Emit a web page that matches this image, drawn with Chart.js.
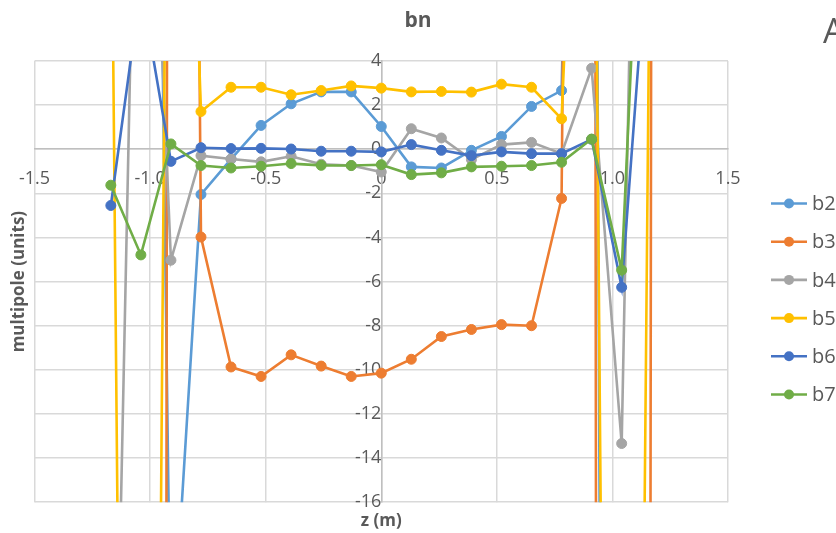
<!DOCTYPE html>
<html>
<head>
<meta charset="utf-8">
<title>bn</title>
<script src="https://cdn.jsdelivr.net/npm/chart.js@4.4.1/dist/chart.umd.min.js"></script>
<style>
  html, body { margin: 0; padding: 0; background: #ffffff; }
  #bnChart { display: block; }
</style>
</head>
<body>
<canvas id="bnChart" width="836" height="533"></canvas>
<script>
// z positions along the magnet (m)
const zPositions = [-1.17, -1.04, -0.91, -0.78, -0.65, -0.52, -0.39, -0.26, -0.13, 0,
                    0.13, 0.26, 0.39, 0.52, 0.65, 0.78, 0.91, 1.04, 1.17];

// normal multipoles, units
const b2 = [30, 78, -24, -2.05, -0.45, 1.08, 2.06, 2.6, 2.6, 1.03, -0.8, -0.85, -0.05, 0.58, 1.94, 2.66, 60, -226, -60];
const b3 = [-60, -1000, 156, -3.98, -9.87, -10.3, -9.32, -9.83, -10.3, -10.15, -9.52, -8.49, -8.17, -7.95, -8.0, -2.23, 150, -1000, 25];
const b4 = [-38, 27, -5.03, -0.29, -0.44, -0.57, -0.32, -0.68, -0.74, -1.03, 0.93, 0.51, -0.47, 0.21, 0.31, -0.2, 3.67, -13.34, 56];
const b5 = [15.8, -130, 40, 1.71, 2.81, 2.81, 2.47, 2.66, 2.87, 2.77, 2.6, 2.62, 2.59, 2.95, 2.81, 1.38, 33, -130, 19];
const b6 = [-2.55, 7.4, -0.55, 0.07, 0.03, 0.04, 0.01, -0.09, -0.09, -0.12, 0.21, -0.05, -0.29, -0.12, -0.2, -0.2, 0.45, -6.26, 12];
const b7 = [-1.63, -4.79, 0.24, -0.74, -0.85, -0.77, -0.65, -0.73, -0.74, -0.7, -1.15, -1.07, -0.8, -0.77, -0.74, -0.59, 0.46, -5.48, 24.5];

const seriesNames = ['b2', 'b3', 'b4', 'b5', 'b6', 'b7'];
const seriesValues = [b2, b3, b4, b5, b6, b7];
const seriesColors = ['#5B9BD5', '#ED7D31', '#A5A5A5', '#FFC000', '#4472C4', '#70AD47'];

const xTickValues = [-1.5, -1, -0.5, 0, 0.5, 1, 1.5];
const yTickValues = [4, 2, 0, -2, -4, -6, -8, -10, -12, -14, -16];

const chartTitle = 'bn';
const xTitle = 'z (m)';
const yTitle = 'multipole (units)';
const cornerText = 'A';

const textColor = '#595959';
const fontFamily = '"Open Sans", sans-serif';

function buildDatasets() {
    return seriesNames.map((name, i) => ({
        label: name,
        data: zPositions.map((z, k) => ({ x: z, y: seriesValues[i][k] })),
        showLine: true,
        borderColor: seriesColors[i],
        backgroundColor: seriesColors[i],
        borderWidth: 2.6,
        pointRadius: 5,
        pointBorderWidth: 1,
        pointBorderColor: seriesColors[i],
        pointBackgroundColor: seriesColors[i],
        clip: 0,
        // later series sit on top
        order: seriesNames.length - i
    }));
}

// title, axis titles and the legend on the right
const chartText = {
    id: 'chartText',
    afterDraw(chart) {
        const ctx = chart.ctx;
        const area = chart.chartArea;
        ctx.save();
        ctx.fillStyle = textColor;
        ctx.textAlign = 'center';
        ctx.textBaseline = 'middle';

        ctx.font = 'bold 21px ' + fontFamily;
        ctx.fillText(chartTitle, chart.width / 2, 21);

        ctx.font = 'bold 17px ' + fontFamily;
        ctx.fillText(xTitle, (area.left + area.right) / 2, 521);

        ctx.save();
        ctx.translate(19, (area.top + area.bottom) / 2);
        ctx.rotate(-Math.PI / 2);
        ctx.fillText(yTitle, 0, 0);
        ctx.restore();

        ctx.textAlign = 'left';
        ctx.textBaseline = 'alphabetic';
        ctx.font = '34px ' + fontFamily;
        ctx.fillText(cornerText, 823, 43);

        // legend entries: line with a marker, then the name
        ctx.font = '20px ' + fontFamily;
        ctx.textBaseline = 'middle';
        seriesNames.forEach((name, i) => {
            const y = 203.5 + i * 38.2;
            ctx.strokeStyle = seriesColors[i];
            ctx.lineWidth = 2.6;
            ctx.beginPath();
            ctx.moveTo(771, y);
            ctx.lineTo(807, y);
            ctx.stroke();
            ctx.fillStyle = seriesColors[i];
            ctx.beginPath();
            ctx.arc(789, y, 5, 0, Math.PI * 2);
            ctx.fill();
            ctx.fillStyle = textColor;
            ctx.fillText(name, 812, y + 1);
        });
        ctx.restore();
    }
};

const ctx = document.getElementById('bnChart').getContext('2d');

new Chart(ctx, {
    type: 'scatter',
    data: { datasets: buildDatasets() },
    options: {
        responsive: false,
        animation: false,
        layout: {
            padding: { left: 33, right: 108, top: 61, bottom: 29 }
        },
        plugins: {
            legend: { display: false },
            tooltip: { enabled: false },
            title: { display: false }
        },
        scales: {
            x: {
                type: 'linear',
                position: { y: 0 },
                min: -1.5,
                max: 1.5,
                afterBuildTicks: axis => { axis.ticks = xTickValues.map(v => ({ value: v })); },
                grid: { color: '#D9D9D9', lineWidth: 1.5, drawTicks: false },
                border: { color: '#BFBFBF', width: 1.5 },
                ticks: {
                    color: textColor,
                    padding: 19,
                    maxRotation: 0,
                    autoSkip: false,
                    font: { family: fontFamily, size: 18 }
                }
            },
            y: {
                type: 'linear',
                position: { x: 0 },
                min: -16,
                max: 4,
                afterBuildTicks: axis => { axis.ticks = yTickValues.map(v => ({ value: v })); },
                grid: { color: '#D9D9D9', lineWidth: 1.5, drawTicks: false },
                border: { color: '#BFBFBF', width: 1.5 },
                ticks: {
                    color: textColor,
                    padding: 20,
                    autoSkip: false,
                    font: { family: fontFamily, size: 18 }
                }
            }
        }
    },
    plugins: [chartText]
});
</script>
</body>
</html>
